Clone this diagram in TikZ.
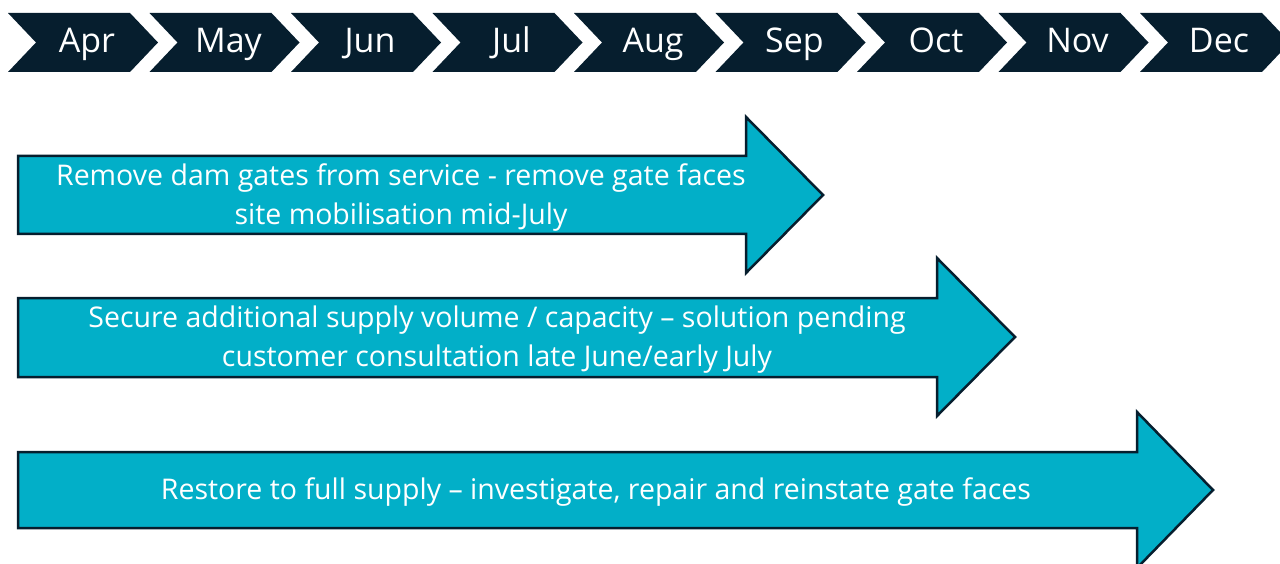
\documentclass[tikz,border=0pt]{standalone}
\usepackage{fontspec}
\setmainfont{Open Sans}
\usepackage{tikz}
\usetikzlibrary{positioning,calc}
\usepackage{xcolor}

\definecolor{monthnavy}{HTML}{061E2E}
\definecolor{taskcyan}{HTML}{02AFC8}

\begin{document}
\begin{tikzpicture}[
    x = 1pt, y = -1pt,
    chevron/.style = {fill=monthnavy},
    month/.style = {text=white, anchor=base, inner sep=0pt, font=\fontsize{34}{40}\selectfont},
    taskarrow/.style = {fill=taskcyan, draw=monthnavy, line width=2.5pt, line join=miter},
    task/.style = {text=white, align=center, inner sep=0pt, font=\fontsize{28.5}{39}\selectfont}
]
    \useasboundingbox (0,0) rectangle (1280,564);
    \clip (0,0) rectangle (1280,564);

    % 1. Month chevrons along the top
    \foreach \m [count=\i from 0] in {Apr,May,Jun,Jul,Aug,Sep,Oct,Nov,Dec} {
        \pgfmathsetmacro{\xl}{8+141.5*\i}
        \fill [chevron] (\xl,13) -- ++(122,0) -- ++(28,29.5) -- ++(-28,29.5) -- ++(-122,0) -- ++(28,-29.5) -- cycle;
        \node [month] (month\i) at (\xl+79,53) {\m};
    }

    % 2. Gate removal
    \draw [taskarrow] (18,156) -- (746,156) -- (746,117) -- (823,195) -- (746,273) -- (746,234) -- (18,234) -- cycle;
    \node [task] (gates) at (401,198) {Remove dam gates from service - remove gate faces\\site mobilisation mid-July};

    % 3. Supply volume
    \draw [taskarrow] (18,298) -- (937,298) -- (937,258) -- (1015,337) -- (937,416) -- (937,377) -- (18,377) -- cycle;
    \node [task] (supply) at (497,340) {Secure additional supply volume / capacity -- solution pending\\customer consultation late June/early July};

    % 4. Full supply
    \draw [taskarrow] (18,452) -- (1137,452) -- (1137,412) -- (1213,490) -- (1137,568) -- (1137,528) -- (18,528) -- cycle;
    \node [task] (restore) at (596,492) {Restore to full supply -- investigate, repair and reinstate gate faces};
\end{tikzpicture}
\end{document}
